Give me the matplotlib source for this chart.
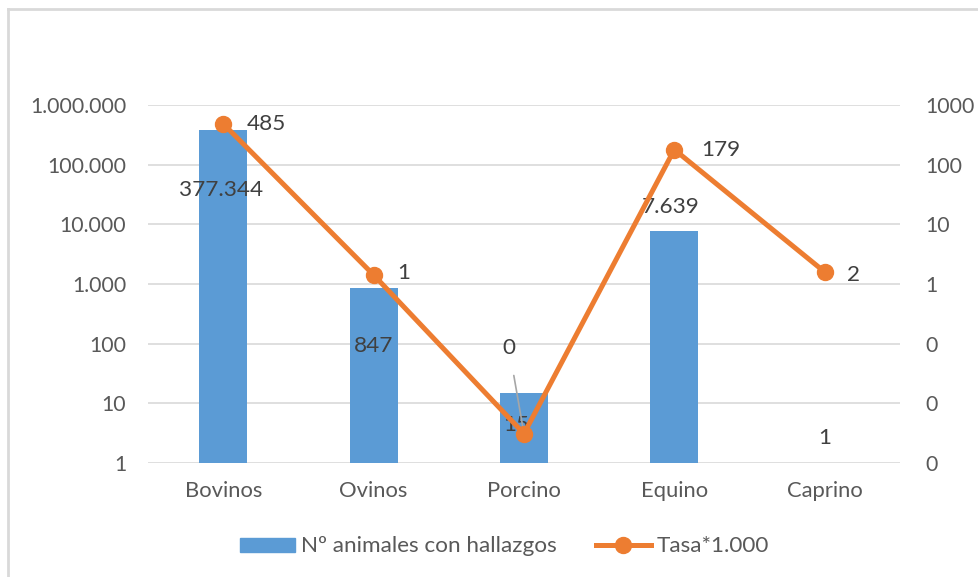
import matplotlib.pyplot as plt
from matplotlib.lines import Line2D
from matplotlib.ticker import FixedLocator, FuncFormatter

# --- datos ---
especies = ["Bovinos", "Ovinos", "Porcino", "Equino", "Caprino"]
animales = [377344, 847, 15, 7639, 1]
tasa = [485, 1.42, 0.0031, 179, 1.59]
etiquetas_animales = ["377.344", "847", "15", "7.639", "1"]
etiquetas_tasa = ["485", "1", "0", "179", "2"]

# --- estilo ---
AZUL = "#5B9BD5"
NARANJA = "#ED7D31"
GRIS_TXT = "#595959"
GRIS_LBL = "#404040"
GRIS_GRID = "#D9D9D9"

plt.rcParams["font.family"] = ["Lato", "DejaVu Sans"]
FS_TICK = 15.3
FS_X = 15.8
FS_LBL = 16.2

def miles(v, pos=None):
    return f"{int(round(v)):,}".replace(",", ".")

fig = plt.figure(figsize=(9.79, 5.77), dpi=100)
ax = fig.add_axes([0.1512, 0.1976, 0.768, 0.6204])
ax2 = ax.twinx()

x = list(range(len(especies)))
ax.bar(x, animales, width=0.32, color=AZUL, zorder=2)
ax.set_yscale("log")
ax.set_ylim(1, 1e6)
ax.set_xlim(-0.5, len(especies) - 0.5)
ax.yaxis.set_major_locator(FixedLocator([10 ** k for k in range(7)]))
ax.yaxis.set_minor_locator(FixedLocator([]))
ax.yaxis.set_major_formatter(FuncFormatter(miles))
ax.grid(axis="y", color=GRIS_GRID, linewidth=1.2, zorder=0)
ax.set_axisbelow(True)
ax.set_xticks(x)
ax.set_xticklabels(especies)
ax.tick_params(axis="both", length=0, colors=GRIS_TXT)
ax.tick_params(axis="x", pad=13, labelsize=FS_X)
ax.tick_params(axis="y", pad=15.8, labelsize=FS_TICK)
for s in ax.spines.values():
    s.set_visible(False)

ax2.plot(x, tasa, color=NARANJA, linewidth=3.6, marker="o", markersize=11.5,
         zorder=4)
ax2.set_yscale("log")
ax2.set_ylim(1e-3, 1e3)
ax2.yaxis.set_major_locator(FixedLocator([10 ** k for k in range(-3, 4)]))
ax2.yaxis.set_minor_locator(FixedLocator([]))
ax2.yaxis.set_major_formatter(FuncFormatter(lambda v, p: str(int(v))))
ax2.tick_params(axis="y", length=0, labelsize=FS_TICK, colors=GRIS_TXT, pad=18)
for s in ax2.spines.values():
    s.set_visible(False)

# etiquetas de las barras (desplazamiento en pixeles respecto al tope)
off_barras = [(-2, -60), (0, -58), (-8, -32), (-4, 24), (0, 25)]
for i, (v, t) in enumerate(zip(animales, etiquetas_animales)):
    ax.annotate(t, (i, v), xytext=off_barras[i], textcoords="offset pixels",
                ha="center", va="center", fontsize=FS_LBL, color=GRIS_LBL,
                zorder=5)

# etiquetas de la tasa
off_tasa = [(43, 0), (30, 2), (-15, 86), (46, 0), (29, -3)]
for i, (v, t) in enumerate(zip(tasa, etiquetas_tasa)):
    if i == 2:
        ax2.annotate(t, (i, v), xytext=off_tasa[i], textcoords="offset pixels",
                     ha="center", va="center", fontsize=FS_LBL, color=GRIS_LBL,
                     arrowprops=dict(arrowstyle="-", color="#A6A6A6", lw=1.2,
                                     shrinkA=11, shrinkB=3))
    else:
        ax2.annotate(t, (i, v), xytext=off_tasa[i], textcoords="offset pixels",
                     ha="center", va="center", fontsize=FS_LBL, color=GRIS_LBL)

# leyenda
h1 = plt.Rectangle((0, 0), 1, 1, color=AZUL)
h2 = Line2D([], [], color=NARANJA, linewidth=3.6, marker="o", markersize=11.5)
fig.legend([h1, h2], ["Nº animales con hallazgos", "Tasa*1.000"],
           loc="center", bbox_to_anchor=(0.5153, 0.0529), ncol=2,
           frameon=False, fontsize=FS_LBL, labelcolor=GRIS_TXT,
           handlelength=2.45, handleheight=0.58, handletextpad=0.27,
           columnspacing=1.73)

# borde del grafico
fig.add_artist(Line2D([8 / 979, 8 / 979], [0, 1 - 9 / 577],
                      transform=fig.transFigure, color="#D9D9D9", lw=2))
fig.add_artist(Line2D([8 / 979, 1], [1 - 9 / 577, 1 - 9 / 577],
                      transform=fig.transFigure, color="#D9D9D9", lw=2))

fig.savefig("out.png", dpi=100)
